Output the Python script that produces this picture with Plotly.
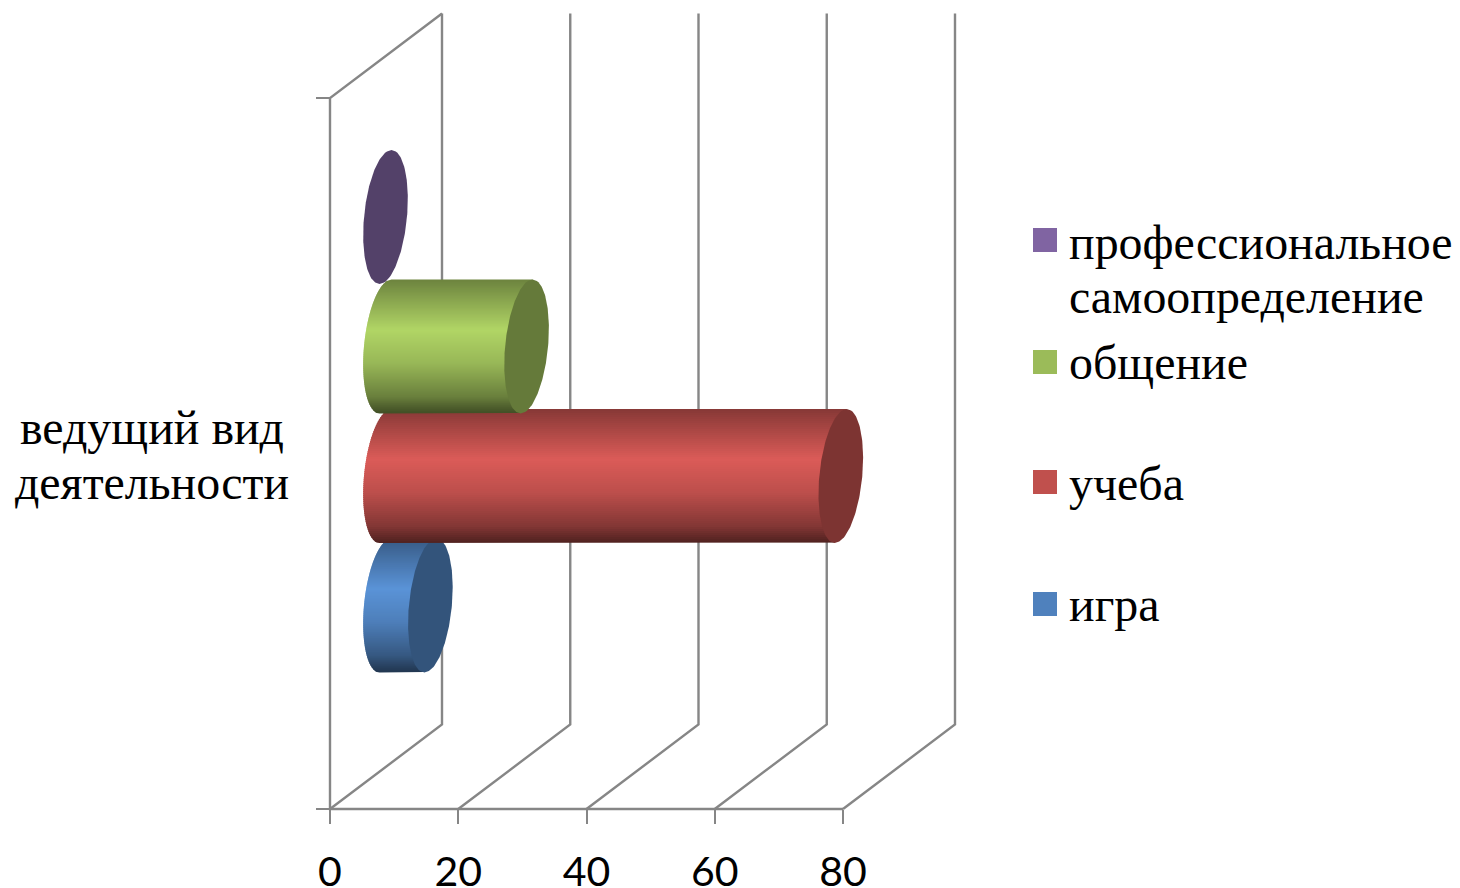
import plotly.graph_objects as go

W, H = 1460, 888
PAGE = 8  # the page's body margin: the figure starts 8 px in from the window corner

# ---- data (bottom to top, as stacked in the chart)
series = ["игра", "учеба", "общение", "профессиональное\nсамоопределение"]
values = [7, 71, 22, 0]
colors = ["#4f81bd", "#c0504d", "#9bbb59", "#8064a2"]
x_ticks = [0, 20, 40, 60, 80]
category = "ведущий вид\nдеятельности"
draw_order = [3, 0, 1, 2]

# ---- geometry, pixels → axis units
PX_X = (843 - 330) / 80
PX_Y = 129.5
Y_BOTTOM = (605.5 - 809) / PX_Y
Y_TOP = (605.5 - 98) / PX_Y
DEPTH_X = 112 / PX_X
DEPTH_Y = 84.5 / PX_Y
BASE = 55.5 / PX_X      # cylinders begin inside the box
RAD_X = 21.5 / PX_X
SHEAR = 6 / PX_X
RAD_Y = 67 / PX_Y
GRID = "#868686"

SHADE = [(-1.0, 0.70), (-0.25, 1.14), (0.25, 0.98), (0.75, 0.68), (0.93, 0.48), (1.0, 0.42)]
CAP = 0.65


def shade(hex_color, f):
    rgb = [int(hex_color[i:i + 2], 16) for i in (1, 3, 5)]
    return "rgb(%d,%d,%d)" % tuple(min(255, round(c * f)) for c in rgb)


def factor(v):
    for (a, fa), (b, fb) in zip(SHADE, SHADE[1:]):
        if v <= b:
            return fa + (fb - fa) * (v - a) / (b - a)
    return SHADE[-1][1]


def left_edge(cx, v):
    return cx - SHEAR * v - RAD_X * max(0.0, 1 - v * v) ** 0.5


def fx(px):
    return (px - PAGE) / W


def fy(py):
    return 1 - (py - PAGE) / H


fig = go.Figure()
common = dict(mode="lines", hoverinfo="skip", showlegend=False)

# box: front axis lines, floor diagonals, back wall verticals, upper side edge
grid_line = dict(color=GRID, width=2.4)
fig.add_trace(go.Scatter(x=[DEPTH_X, 0, 0, x_ticks[-1]],
                         y=[Y_TOP + DEPTH_Y, Y_TOP, Y_BOTTOM, Y_BOTTOM], line=grid_line, **common))
for t in x_ticks:
    fig.add_trace(go.Scatter(x=[t, t + DEPTH_X, t + DEPTH_X],
                             y=[Y_BOTTOM, Y_BOTTOM + DEPTH_Y, Y_TOP + DEPTH_Y],
                             line=grid_line, **common))

# cylinders
N = 67
for idx in draw_order:
    value, col = values[idx], colors[idx]
    c0, c1 = BASE, BASE + value
    if value > 0:
        for k in range(N):
            v0 = -1 + 2 * k / N
            v1 = min(1.0, -1 + 2 * (k + 1.6) / N)
            vs = [v0 + (v1 - v0) * j / 4 for j in range(5)]
            xs = [left_edge(c0, v) for v in vs] + [c1 - SHEAR * v for v in reversed(vs)]
            ys = [idx - v * RAD_Y for v in vs] + [idx - v * RAD_Y for v in reversed(vs)]
            fig.add_trace(go.Scatter(
                x=xs, y=ys, fill="toself", fillcolor=shade(col, factor(v0 + 1 / N)),
                line=dict(width=0), name=series[idx], **common))
    steps = 96
    vs = [-1 + 2 * j / steps for j in range(steps + 1)]
    xs = [c1 - SHEAR * v + RAD_X * (1 - v * v) ** 0.5 for v in vs]
    xs += [c1 - SHEAR * v - RAD_X * (1 - v * v) ** 0.5 for v in reversed(vs)]
    ys = [idx - v * RAD_Y for v in vs] + [idx - v * RAD_Y for v in reversed(vs)]
    fig.add_trace(go.Scatter(x=xs, y=ys, fill="toself", fillcolor=shade(col, CAP),
                             line=dict(width=0), name=series[idx], **common))

serif = dict(family="Liberation Serif", size=47.9, color="#000000")


def label(text, px, py, anchor):
    fig.add_annotation(text=text, xref="paper", yref="paper", x=fx(px), y=fy(py),
                       xanchor=anchor, yanchor="middle", showarrow=False, borderpad=0, font=serif)


# legend drawn by hand: its rows are unevenly spaced in the reference
legend_rows = [(3, 240, [242.5, 296.5]), (2, 362, [362.5]), (1, 482, [483.5]), (0, 604, [604.5])]
for idx, sq_y, text_ys in legend_rows:
    fig.add_shape(type="rect", xref="paper", yref="paper", line_width=0, fillcolor=colors[idx],
                  x0=fx(1033), x1=fx(1057), y0=fy(sq_y - 12), y1=fy(sq_y + 12))
    for line, py in zip(series[idx].split("\n"), text_ys):
        label(line, 1068, py, "left")

for line, py in zip(category.split("\n"), [427, 482]):
    label(line, 151.5, py, "center")

# the plot area fills the page so the 3-D box can extend past the front axes
fig.update_layout(
    width=W, height=H, autosize=False,
    margin=dict(l=0, r=0, t=0, b=0, pad=0, autoexpand=False),
    paper_bgcolor="white", plot_bgcolor="white", showlegend=False,
    xaxis=dict(domain=[0, 1], range=[(PAGE - 330) / PX_X, (W + PAGE - 330) / PX_X],
               tickvals=x_ticks, anchor="free", position=fy(809),
               showgrid=False, zeroline=False, showline=False,
               ticks="outside", ticklen=14, tickwidth=2.4, tickcolor=GRID, ticklabelstandoff=13,
               tickfont=dict(family="Lato", size=41, color="#000000")),
    yaxis=dict(domain=[0, 1], range=[(605.5 - H - PAGE) / PX_Y, (605.5 - PAGE) / PX_Y],
               tickvals=[Y_BOTTOM, Y_TOP], ticktext=["", ""], anchor="free", position=fx(330),
               showgrid=False, zeroline=False, showline=False,
               ticks="outside", ticklen=14, tickwidth=2.4, tickcolor=GRID),
)

fig.write_html("out.html")
